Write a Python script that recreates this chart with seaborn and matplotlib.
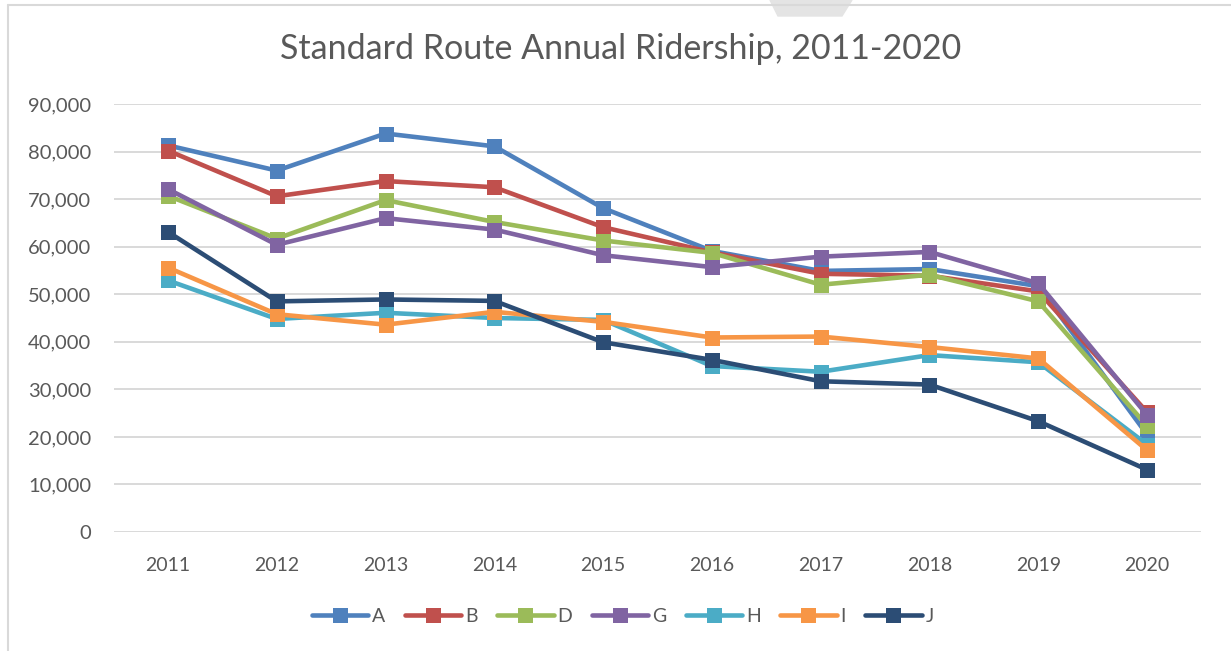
import matplotlib
matplotlib.use('Agg')
import matplotlib.pyplot as plt
from matplotlib.lines import Line2D
from matplotlib.patches import Polygon
from matplotlib.ticker import FuncFormatter
import seaborn as sns
import pandas as pd

# dados
years = ['2011', '2012', '2013', '2014', '2015', '2016', '2017', '2018', '2019', '2020']
routes = ['A', 'B', 'D', 'G', 'H', 'I', 'J']
route_a = [81300, 76000, 83800, 81100, 68100, 59100, 54900, 55300, 51700, 20500]
route_b = [80200, 70600, 73800, 72500, 64100, 58800, 54300, 53900, 50600, 25200]
route_d = [70700, 61700, 69800, 65200, 61300, 58700, 52000, 54100, 48500, 22300]
route_g = [72100, 60400, 66000, 63600, 58200, 55700, 57900, 58900, 52300, 24600]
route_h = [52900, 44800, 46100, 45000, 44600, 34900, 33700, 37200, 35700, 18400]
route_i = [55600, 45800, 43600, 46300, 44200, 40900, 41100, 38900, 36500, 17200]
route_j = [63100, 48500, 48900, 48600, 39900, 36200, 31700, 31000, 23300, 13100]
colors = ['#4F81BD', '#C0504D', '#9BBB59', '#8064A2', '#4BACC6', '#F79646', '#2C4D75']

series = [route_a, route_b, route_d, route_g, route_h, route_i, route_j]
rows = []
for r, vals in zip(routes, series):
    for y, v in zip(years, vals):
        rows.append({'year': y, 'riders': v, 'route': r})
df = pd.DataFrame(rows)

sns.set_style('white')
plt.rcParams['font.family'] = ['Lato', 'DejaVu Sans']
txt = '#595959'
grid = '#D9D9D9'

fig = plt.figure(figsize=(12.31, 6.51), dpi=100)
ax = fig.add_axes([0.0923, 0.1828, 0.8837, 0.6574])

sns.lineplot(data=df, x='year', y='riders', hue='route', palette=colors,
             style='route', markers=['s'] * 7, dashes=False, linewidth=3.3,
             markersize=10.8, markeredgewidth=0, legend=False, ax=ax, zorder=3)

ax.set_xlim(-0.5, 9.5)
ax.set_ylim(0, 90000)
ax.set_yticks(range(0, 90001, 10000))
ax.yaxis.set_major_formatter(FuncFormatter(lambda v, p: f'{v:,.0f}'))
ax.grid(axis='y', color=grid, linewidth=1.4)
ax.set_axisbelow(True)
for s in ax.spines.values():
    s.set_visible(False)
ax.tick_params(axis='both', length=0, labelcolor=txt)
ax.tick_params(axis='y', pad=16, labelsize=14.5)
ax.tick_params(axis='x', pad=18, labelsize=14)
ax.set_xlabel('')
ax.set_ylabel('')

fig.text(0.504, 0.925, 'Standard Route Annual Ridership, 2011-2020', ha='center',
         va='center', fontsize=24.5, color=txt)

# legenda
handles = [Line2D([], [], color=c, linewidth=3.3, marker='s', markersize=10.8,
                  markeredgewidth=0, solid_capstyle='round') for c in colors]
fig.legend(handles, routes, loc='center', bbox_to_anchor=(0.506, 0.053), ncol=7,
           frameon=False, fontsize=14, labelcolor=txt, handlelength=2.9,
           handletextpad=0.2, columnspacing=1.0)

# borda da área do gráfico
fig.add_artist(Line2D([8 / 1231, 8 / 1231], [0, 1 - 5 / 651], color=grid, linewidth=1.5))
fig.add_artist(Line2D([8 / 1231, 1], [1 - 5 / 651, 1 - 5 / 651], color=grid, linewidth=1.5))
fig.add_artist(Polygon([[770 / 1231, 1], [852 / 1231, 1], [842 / 1231, 1 - 16 / 651],
                        [778 / 1231, 1 - 16 / 651]], closed=True, color='#E4E4E4',
                       transform=fig.transFigure))

fig.savefig('out.png', dpi=100)
